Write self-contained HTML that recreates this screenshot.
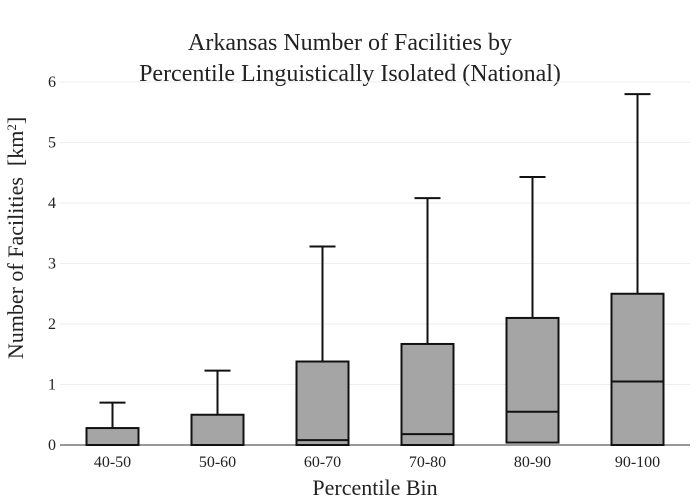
<!DOCTYPE html>
<html><head><meta charset="utf-8"><style>
body{margin:0;background:#fff}
svg{font-family:"Liberation Serif",serif;display:block}
</style></head><body>
<svg id="c" width="700" height="500">
<text x="350" y="50" text-anchor="middle" font-size="24" fill="#222">Arkansas Number of Facilities by</text>
<text x="350" y="81" text-anchor="middle" font-size="24" fill="#222">Percentile Linguistically Isolated (National)</text>
<text transform="translate(23,238) rotate(-90)" text-anchor="middle" font-size="22" fill="#222" xml:space="preserve">Number of Facilities  [km<tspan baseline-shift="super" font-size="13">2</tspan>]</text>
<text x="375" y="495" text-anchor="middle" font-size="22" fill="#222">Percentile Bin</text>
<g id="grid"></g><g id="boxes"></g>
</svg>
<script>
const categories=["40-50","50-60","60-70","70-80","80-90","90-100"];
const q1s=[0,0,0,0,0.04,0];
const medians=[0,0,0.08,0.18,0.55,1.05];
const q3s=[0.28,0.5,1.38,1.67,2.1,2.5];
const mins=[0,0,0,0,0,0];
const maxs=[0.7,1.23,3.28,4.08,4.43,5.8];
const yTicks=[0,1,2,3,4,5,6];
const NS="http://www.w3.org/2000/svg";
const x0=60,x1=690,yb=445,yt=82;
const y=v=>yb-(v/6)*(yb-yt);
const step=(x1-x0)/categories.length;
const xc=i=>x0+step*(i+0.5);
function mk(t,a,p){const e=document.createElementNS(NS,t);for(const k in a)e.setAttribute(k,a[k]);p.appendChild(e);return e;}
const g=document.getElementById('grid'),b=document.getElementById('boxes');
yTicks.forEach(t=>{
 if(t>0){const l=mk('line',{x1:x0,x2:x1,y1:y(t),y2:y(t),stroke:'#eee'},g);
 
 }
 const tx=mk('text',{x:x0-4,y:y(t)+5,'text-anchor':'end','font-size':16,fill:'#222'},g);tx.textContent=t;
 
 
});
const ax=mk('line',{x1:x0,x2:x1,y1:yb,y2:yb,stroke:'#999','stroke-width':2},g);


const w=52;
categories.forEach((c,i)=>{
 const cx=xc(i);
 const wh=mk('line',{x1:cx,x2:cx,y1:y(maxs[i]),y2:y(q3s[i]),stroke:'#111','stroke-width':2},b);
 
 
 const cap=mk('line',{x1:cx-w/4,x2:cx+w/4,y1:y(maxs[i]),y2:y(maxs[i]),stroke:'#111','stroke-width':2},b);
 
 
 const r=mk('rect',{x:cx-w/2,y:y(q3s[i]),width:w,height:Math.max(y(q1s[i])-y(q3s[i]),1),fill:'#a5a5a5',stroke:'#111','stroke-width':2},b);
 
 
 const m=mk('line',{x1:cx-w/2,x2:cx+w/2,y1:y(medians[i]),y2:y(medians[i]),stroke:'#111','stroke-width':2},b);
 
 
 const t=mk('text',{x:cx,y:467,'text-anchor':'middle','font-size':16,fill:'#222'},b);t.textContent=c;
 
 
});
</script>
</body></html>
